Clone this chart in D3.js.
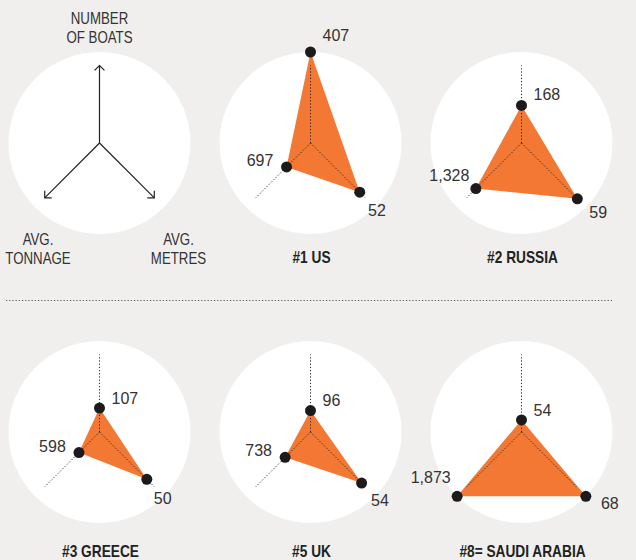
<!DOCTYPE html>
<html>
<head>
<meta charset="utf-8">
<script src="https://cdn.jsdelivr.net/npm/d3@7/dist/d3.min.js"></script>
<style>
  html, body { margin: 0; padding: 0; background: #f0efed; }
  svg { display: block; }
</style>
</head>
<body>
<svg id="chart" width="636" height="560"></svg>
<script>
// Fleet profile per country: number of boats, average tonnage, average length
const countries = ["#1 US", "#2 RUSSIA", "#3 GREECE", "#5 UK", "#8= SAUDI ARABIA"];
const boats     = [407, 168, 107, 96, 54];
const tonnage   = [697, 1328, 598, 738, 1873];
const metres    = [52, 59, 50, 54, 68];

// Key labels for the three axes (boats, tonnage, metres)
const keyLabels = [["NUMBER", "OF BOATS"], ["AVG.", "TONNAGE"], ["AVG.", "METRES"]];

const W = 636, H = 560;
const R = 91;            // circle radius, and the length a maximum value reaches
const AXIS_LEN = 77.5;   // length of the dotted guide axes
const ORANGE = "#f27833";
const FONT = "'Liberation Sans', Arial, sans-serif";
const SQUEEZE = 0.83;    // horizontal squeeze for the condensed-looking captions

const svg = d3.select("#chart");
svg.append("rect").attr("width", W).attr("height", H).attr("fill", "#f0efed");

// condensed caption: text drawn in a horizontally squeezed group
function caption(parent, x, y, str, opts) {
  const g = parent.append("g").attr("transform", `translate(${x},${y}) scale(${SQUEEZE},1)`);
  return g.append("text")
    .attr("x", 0).attr("y", 0)
    .attr("text-anchor", "middle")
    .attr("font-family", FONT)
    .attr("font-size", opts.size)
    .attr("font-weight", opts.weight || "normal")
    .attr("fill", opts.fill)
    .text(str);
}

// grid: 3 columns x 2 rows; first slot holds the key
const colX = d3.scaleLinear().domain([0, 1]).range([99.5, 310.5]);
const rowY = [143, 432];
const titleY = [263, 557];

// axis directions (screen angles, y down): boats up, tonnage lower-left, metres lower-right
const angles = [-90, 135, 45].map(a => a * Math.PI / 180);
const dir = k => [Math.cos(angles[k]), Math.sin(angles[k])];

const scales = [
  d3.scaleLinear().domain([0, d3.max(boats)]).range([0, R]),
  d3.scaleLinear().domain([0, d3.max(tonnage)]).range([0, R]),
  d3.scaleLinear().domain([0, d3.max(metres)]).range([0, R])
];
const fmt = d3.format(",");

// separator between the rows
svg.append("line")
  .attr("x1", 6).attr("x2", 613).attr("y1", 300.5).attr("y2", 300.5)
  .attr("stroke", "#555").attr("stroke-width", 1).attr("stroke-dasharray", "1.2,2");

// ---------- key panel ----------
{
  const cx = colX(0), cy = rowY[0];
  const g = svg.append("g").attr("transform", `translate(${cx},${cy})`);
  g.append("circle").attr("r", R).attr("fill", "#fff");
  [0, 1, 2].forEach(k => {
    const [ux, uy] = dir(k);
    const tx = ux * AXIS_LEN, ty = uy * AXIS_LEN;
    g.append("line").attr("x1", 0).attr("y1", 0).attr("x2", tx).attr("y2", ty)
      .attr("stroke", "#222").attr("stroke-width", 1.2);
    // open chevron head
    const back = angles[k] + Math.PI;
    const hl = 7;
    const p1 = [tx + hl * Math.cos(back - Math.PI / 4), ty + hl * Math.sin(back - Math.PI / 4)];
    const p2 = [tx + hl * Math.cos(back + Math.PI / 4), ty + hl * Math.sin(back + Math.PI / 4)];
    g.append("path").attr("d", d3.line()([p1, [tx, ty], p2]))
      .attr("fill", "none").attr("stroke", "#222").attr("stroke-width", 1.2);
  });
  const keyPos = [[0, -119], [-61.5, 102], [79, 102]];
  keyLabels.forEach((lines, k) => {
    lines.forEach((s, i) => {
      caption(g, keyPos[k][0], keyPos[k][1] + i * 18.5, s, { size: 16, fill: "#333" });
    });
  });
}

// ---------- country panels ----------
const labelPlacement = [
  // boats: right of the dot, lifted as it nears the rim
  t => ({ anchor: "start", dx: 12, dy: -4 - 6.6 * t * t }),
  // tonnage: left of the dot, lifted as it nears the rim
  t => ({ anchor: "middle", dx: -26.5, dy: 5.8 - 19.3 * t }),
  // metres: below-right of the dot, swinging sideways near the rim
  t => {
    const a = (55 - (t - 0.7) * 130) * Math.PI / 180;
    return { anchor: "middle", dx: 25 * Math.cos(a), dy: 25 * Math.sin(a) + 5.8 };
  }
];

countries.forEach((name, i) => {
  const slot = i + 1;
  const col = slot % 3, row = Math.floor(slot / 3);
  const cx = colX(col), cy = rowY[row];
  const g = svg.append("g").attr("transform", `translate(${cx},${cy})`);
  g.append("circle").attr("r", R).attr("fill", "#fff");

  const vals = [boats[i], tonnage[i], metres[i]];
  const pts = vals.map((v, k) => {
    const [ux, uy] = dir(k);
    const r = scales[k](v);
    return [ux * r, uy * r];
  });

  g.append("path").attr("d", d3.line()(pts) + "Z").attr("fill", ORANGE);

  [0, 1, 2].forEach(k => {
    const [ux, uy] = dir(k);
    g.append("line").attr("x1", 0).attr("y1", 0)
      .attr("x2", ux * AXIS_LEN).attr("y2", uy * AXIS_LEN)
      .attr("stroke", "#222").attr("stroke-width", 1).attr("stroke-dasharray", "1.2,2");
  });

  g.selectAll("circle.dot").data(pts).join("circle")
    .attr("class", "dot")
    .attr("cx", d => d[0]).attr("cy", d => d[1]).attr("r", 5.5)
    .attr("fill", "#1c1a1a");

  vals.forEach((v, k) => {
    const t = scales[k](v) / R;
    const p = labelPlacement[k](t);
    g.append("text")
      .attr("x", pts[k][0] + p.dx).attr("y", pts[k][1] + p.dy)
      .attr("text-anchor", p.anchor)
      .attr("font-family", FONT).attr("font-size", 16).attr("fill", "#333")
      .text(fmt(v));
  });

  caption(svg, cx + 1, titleY[row], name, { size: 16.5, weight: "bold", fill: "#222" });
});
</script>
</body>
</html>
